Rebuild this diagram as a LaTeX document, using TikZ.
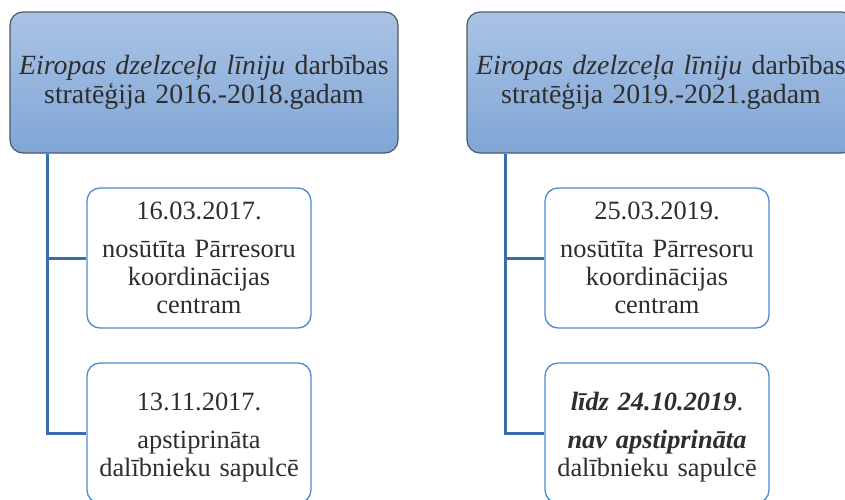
\documentclass[tikz,border=0pt]{standalone}
\usepackage{fontspec}
\setmainfont{Liberation Serif}
\definecolor{txt}{HTML}{2E2E2E}
\definecolor{topA}{HTML}{AAC3E5}
\definecolor{topB}{HTML}{80A6D6}
\definecolor{topborder}{HTML}{4F5A66}
\definecolor{childborder}{HTML}{4A8AD0}
\definecolor{conn}{HTML}{3B6EA8}
\tikzset{
  headbox/.style={draw=topborder, line width=1.2pt, rounded corners=13pt,
    top color=topA, bottom color=topB, minimum width=388pt, minimum height=141pt,
    text width=384pt, align=center, inner sep=0pt, text=txt,
    font=\fontsize{27.8}{29}\selectfont},
  childbox/.style={draw=childborder, line width=1.3pt, rounded corners=13pt, fill=white,
    minimum width=224pt, minimum height=140pt, text width=222pt, align=center,
    inner sep=0pt, text=txt, font=\fontsize{26.4}{28}\selectfont},
  connline/.style={draw=conn, line width=3pt}
}
\begin{document}
\begin{tikzpicture}[x=1pt,y=-1pt]
\useasboundingbox (0,0) rectangle (845,499);
\clip (0,0) rectangle (845,499);
\node[headbox] (t1) at (204,82.5) {\textit{Eiropas dzelzceļa līniju} darbības\\stratēģija 2016.-2018.gadam};
\node[headbox] (t2) at (661,82.5) {\textit{Eiropas dzelzceļa līniju} darbības\\stratēģija 2019.-2021.gadam};
\node[childbox] (c1) at (199,258) {16.03.2017.\\[10pt]nosūtīta Pārresoru\\koordinācijas\\centram};
\node[childbox] (c2) at (199,433) {\rule{0pt}{26pt}13.11.2017.\\[10pt]apstiprināta\\dalībnieku sapulcē};
\node[childbox] (c3) at (657,258) {25.03.2019.\\[10pt]nosūtīta Pārresoru\\koordinācijas\\centram};
\node[childbox] (c4) at (657,433) {\rule{0pt}{26pt}\textbf{\textit{līdz 24.10.2019}}.\\[10pt]\textbf{\textit{nav apstiprināta}}\\dalībnieku sapulcē};
\coordinate (j1) at ([xshift=38pt]t1.south west);
\coordinate (j2) at ([xshift=39pt]t2.south west);
\draw[connline] (j1) |- (c1.west);
\draw[connline] (j1) |- (c2.west);
\draw[connline] (j2) |- (c3.west);
\draw[connline] (j2) |- (c4.west);
\end{tikzpicture}
\end{document}
